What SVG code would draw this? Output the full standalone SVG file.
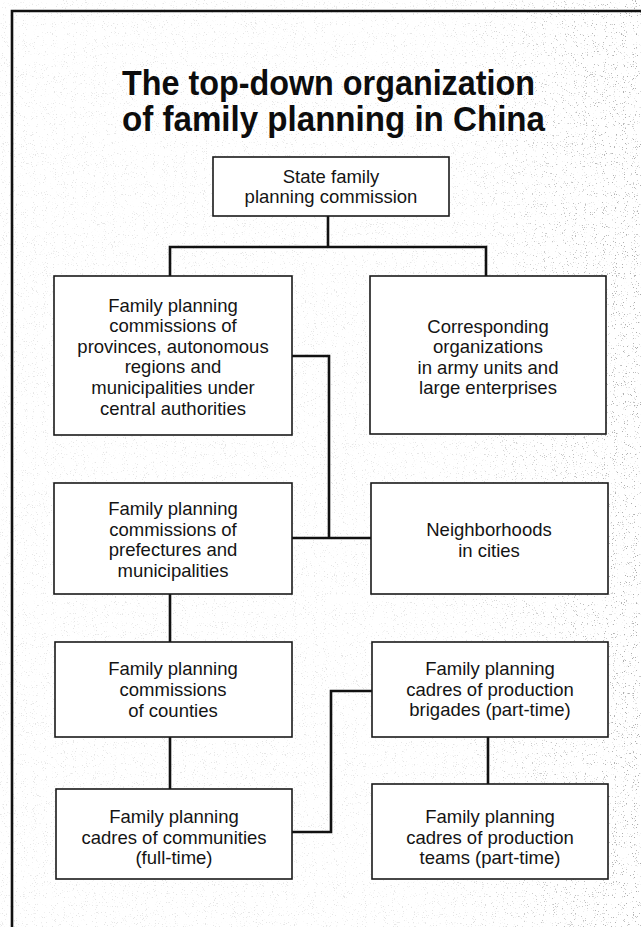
<svg xmlns="http://www.w3.org/2000/svg" width="641" height="927" viewBox="0 0 641 927">
<style>
.box{fill:#fff;stroke:#1a1a1a;stroke-width:1.6}
.t{font-family:"Liberation Sans",Arial,Helvetica,sans-serif;font-size:18.5px;fill:#141414;text-anchor:middle}
.title{font-family:"Liberation Sans",Arial,Helvetica,sans-serif;font-size:35px;font-weight:bold;fill:#0d0d0d}
.con{fill:none;stroke:#111;stroke-width:2.6;stroke-linejoin:miter;stroke-linecap:square}
</style>
<defs>
<filter id="speck" x="0" y="0" width="641" height="927" filterUnits="userSpaceOnUse">
<feTurbulence type="fractalNoise" baseFrequency="0.9" numOctaves="2" seed="7" result="n"/>
<feColorMatrix in="n" type="matrix" values="0 0 0 0 0.4  0 0 0 0 0.4  0 0 0 0 0.4  10 0 0 0 -6.5"/>
</filter>
<linearGradient id="fade" x1="0" y1="0" x2="1" y2="0">
<stop offset="0" stop-color="#fff" stop-opacity="0.3"/>
<stop offset="0.7" stop-color="#fff" stop-opacity="0.3"/>
<stop offset="0.9" stop-color="#fff" stop-opacity="0.75"/>
<stop offset="1" stop-color="#fff" stop-opacity="1"/>
</linearGradient>
<mask id="m"><rect x="0" y="0" width="641" height="927" fill="url(#fade)"/></mask>
</defs>
<rect x="0" y="0" width="641" height="927" fill="#fff"/>
<g mask="url(#m)"><rect x="0" y="0" width="641" height="927" filter="url(#speck)"/></g>
<path d="M12,927 V11 H641" fill="none" stroke="#111" stroke-width="2.6"/>
<g id="title">
<text class="title" x="122" y="95" textLength="413" lengthAdjust="spacingAndGlyphs">The top-down organization</text>
<text class="title" x="122" y="131" textLength="423" lengthAdjust="spacingAndGlyphs">of family planning in China</text>
</g>
<g id="connectors">
<path class="con" d="M328,216 V247 M170,276 V247 H486 V276"/>
<path class="con" d="M292,356 H329 V538 M292,538 H371"/>
<path class="con" d="M170,594 V642 M170,737 V789"/>
<path class="con" d="M292,832 H331 V691 H372"/>
<path class="con" d="M488,737 V784"/>
</g>
<g id="state">
<rect class="box" x="213" y="157" width="236" height="59"/>
<text class="t" x="331" y="183">State family</text>
<text class="t" x="331" y="203">planning commission</text>
</g>
<g id="provinces">
<rect class="box" x="54" y="276" width="238" height="159"/>
<text class="t" x="173" y="311.7">Family planning</text>
<text class="t" x="173" y="332.2">commissions of</text>
<text class="t" x="173" y="352.7">provinces, autonomous</text>
<text class="t" x="173" y="373.3">regions and</text>
<text class="t" x="173" y="394">municipalities under</text>
<text class="t" x="173" y="414.7">central authorities</text>
</g>
<g id="army">
<rect class="box" x="370" y="276" width="236" height="158"/>
<text class="t" x="488" y="332.5">Corresponding</text>
<text class="t" x="488" y="353">organizations</text>
<text class="t" x="488" y="373.5">in army units and</text>
<text class="t" x="488" y="394">large enterprises</text>
</g>
<g id="prefectures">
<rect class="box" x="54" y="483" width="238" height="111"/>
<text class="t" x="173" y="515">Family planning</text>
<text class="t" x="173" y="535.5">commissions of</text>
<text class="t" x="173" y="556">prefectures and</text>
<text class="t" x="173" y="576.5">municipalities</text>
</g>
<g id="neighborhoods">
<rect class="box" x="371" y="483" width="237" height="111"/>
<text class="t" x="489" y="536">Neighborhoods</text>
<text class="t" x="489" y="556.5">in cities</text>
</g>
<g id="counties">
<rect class="box" x="55" y="642" width="237" height="95"/>
<text class="t" x="173" y="675">Family planning</text>
<text class="t" x="173" y="695.5">commissions</text>
<text class="t" x="173" y="716.5">of counties</text>
</g>
<g id="brigades">
<rect class="box" x="372" y="642" width="236" height="95"/>
<text class="t" x="490" y="675">Family planning</text>
<text class="t" x="490" y="695.5">cadres of production</text>
<text class="t" x="490" y="716">brigades (part-time)</text>
</g>
<g id="communities">
<rect class="box" x="56" y="789" width="236" height="90"/>
<text class="t" x="174" y="823">Family planning</text>
<text class="t" x="174" y="843.5">cadres of communities</text>
<text class="t" x="174" y="864">(full-time)</text>
</g>
<g id="teams">
<rect class="box" x="372" y="784" width="236" height="95"/>
<text class="t" x="490" y="823">Family planning</text>
<text class="t" x="490" y="843.5">cadres of production</text>
<text class="t" x="490" y="864">teams (part-time)</text>
</g>
</svg>
